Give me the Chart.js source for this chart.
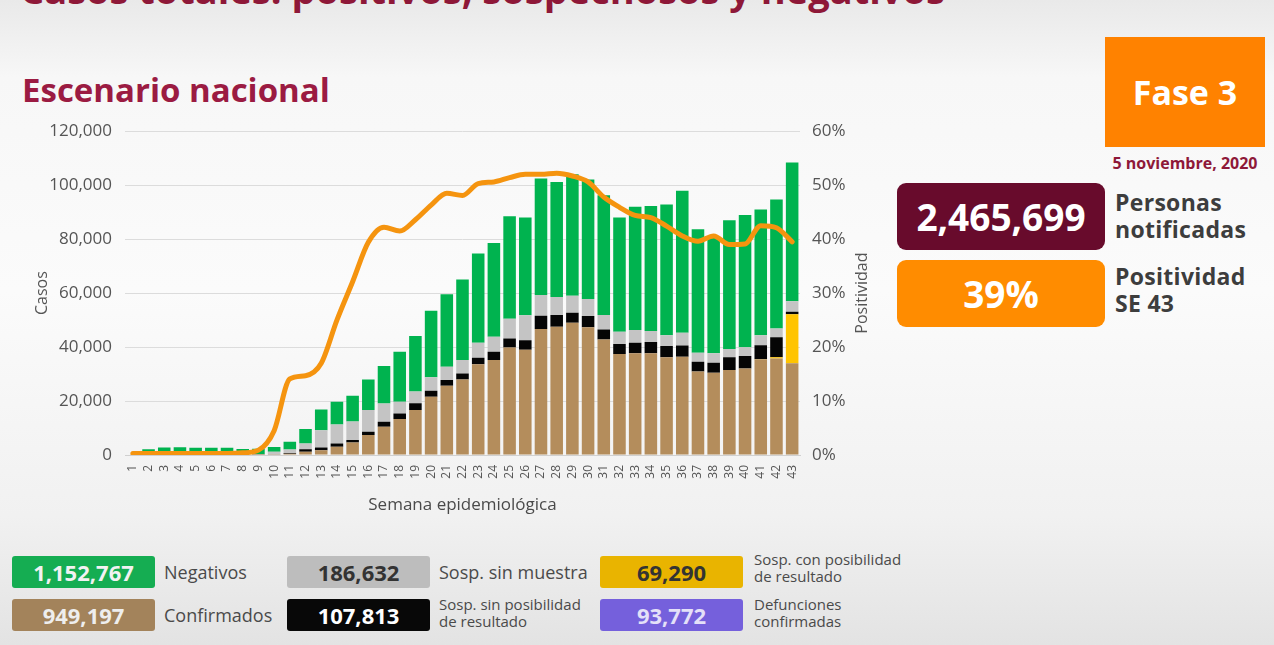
<!DOCTYPE html>
<html lang="es">
<head>
<meta charset="utf-8">
<title>Escenario nacional</title>
<script src="https://cdn.jsdelivr.net/npm/chart.js@4.4.1/dist/chart.umd.min.js"></script>
<style>
  html, body { margin: 0; padding: 0; }
  body {
    width: 1274px; height: 645px; overflow: hidden; position: relative;
    font-family: "Open Sans", "DejaVu Sans", sans-serif;
    background: linear-gradient(180deg, #e9e9e9 0%, #f7f7f7 12%, #fbfbfb 45%, #f1f1f1 80%, #e3e3e3 100%);
  }
  .abs { position: absolute; }
  .toptitle { left: 20px; top: -37px; font-size: 38px; font-weight: 700; color: #8e1838; white-space: nowrap; }
  .title { left: 22px; top: 67px; font-size: 33px; font-weight: 700; color: #9b1b42; }
  #wrap { left: 20px; top: 108px; width: 870px; height: 410px; }
  .fase { left: 1105px; top: 37px; width: 160px; height: 110px; background: #ff8200;
          color: #fff; font-weight: 700; font-size: 34px; display: flex; align-items: center; justify-content: center; }
  .fecha { left: 1100px; top: 152px; width: 170px; text-align: center; color: #8e1838; font-weight: 700; font-size: 16px; }
  .bigbox { left: 897px; width: 208px; height: 67px; border-radius: 9px; color: #fff; font-weight: 700;
            font-size: 37px; display: flex; align-items: center; justify-content: center; }
  .sidelbl { left: 1115px; color: #3d3d3d; font-weight: 700; font-size: 23px; line-height: 27px; letter-spacing: 0.3px; }
  .lbox { width: 143px; height: 32px; border-radius: 3px; font-weight: 700; font-size: 22px;
          display: flex; align-items: center; justify-content: center; }
  .ltxt { color: #4a4a4a; font-size: 18px; }
  .ltxt2 { color: #4a4a4a; font-size: 15px; line-height: 17px; }
</style>
</head>
<body>
<div class="abs toptitle">Casos totales: positivos, sospechosos y negativos</div>
<div class="abs title">Escenario nacional</div>
<div class="abs" id="wrap"><canvas id="chart"></canvas></div>

<div class="abs fase">Fase 3</div>
<div class="abs fecha">5 noviembre, 2020</div>
<div class="abs bigbox" style="top:183px; background:#680b2c;">2,465,699</div>
<div class="abs sidelbl" style="top:189px;">Personas<br>notificadas</div>
<div class="abs bigbox" style="top:260px; background:#ff8c00;">39%</div>
<div class="abs sidelbl" style="top:263px;">Positividad<br>SE 43</div>

<div class="abs lbox" style="left:12px; top:556px; background:#15ad52; color:#f2f2f2;">1,152,767</div>
<div class="abs ltxt" style="left:164px; top:560px;">Negativos</div>
<div class="abs lbox" style="left:287px; top:556px; background:#bdbdbd; color:#333;">186,632</div>
<div class="abs ltxt" style="left:439px; top:560px;">Sosp. sin muestra</div>
<div class="abs lbox" style="left:600px; top:556px; background:#e9b400; color:#333;">69,290</div>
<div class="abs ltxt2" style="left:754px; top:551px;">Sosp. con posibilidad<br>de resultado</div>
<div class="abs lbox" style="left:12px; top:599px; background:#a3835b; color:#eee;">949,197</div>
<div class="abs ltxt" style="left:164px; top:603px;">Confirmados</div>
<div class="abs lbox" style="left:287px; top:599px; background:#080808; color:#fff;">107,813</div>
<div class="abs ltxt2" style="left:439px; top:596px;">Sosp. sin posibilidad<br>de resultado</div>
<div class="abs lbox" style="left:600px; top:599px; background:#7560dc; color:#e4e0f8;">93,772</div>
<div class="abs ltxt2" style="left:754px; top:596px;">Defunciones<br>confirmadas</div>

<script>
// semanas epidemiologicas 1..43
var semanas = ['1','2','3','4','5','6','7','8','9','10','11','12','13','14','15','16','17','18','19','20','21','22',
  '23','24','25','26','27','28','29','30','31','32','33','34','35','36','37','38','39','40','41','42','43'];

var confirmados = [0, 0, 0, 0, 0, 0, 0, 0, 20, 100, 500, 1200, 1800, 3100, 4600, 7400, 10500, 13300, 16700, 21600,
  25700, 28000, 33600, 35200, 39800, 39000, 46700, 47500, 49000, 47300, 42800, 37400, 37700, 37700, 36200, 36400,
  30900, 30500, 31500, 32100, 35400, 35800, 34000];

var sospConPosibilidad = [0, 0, 0, 0, 0, 0, 0, 0, 0, 0, 0, 0, 0, 0, 0, 0, 0, 0, 0, 0, 0, 0, 0, 0, 0, 0, 0, 0, 0, 0,
  0, 0, 0, 0, 0, 0, 0, 0, 0, 0, 100, 400, 18200];

var sospSinPosibilidad = [0, 0, 0, 0, 0, 0, 0, 0, 0, 0, 200, 900, 1000, 1200, 1000, 1200, 1800, 2100, 2500, 2200,
  2100, 2200, 2400, 3100, 3400, 3500, 4900, 4400, 3700, 4200, 3700, 3700, 3900, 4200, 4200, 4200, 3700, 3700,
  4700, 4600, 5200, 7400, 900];

var sospSinMuestra = [0, 300, 300, 300, 300, 300, 300, 300, 300, 1100, 1300, 2200, 6400, 7000, 6800, 8100, 6800,
  4300, 4300, 5000, 4900, 5000, 5600, 5500, 7300, 9300, 7700, 6700, 6300, 6300, 5400, 4600, 4700, 4100, 4000,
  4700, 3300, 3500, 3100, 3200, 3700, 3300, 3900];

var negativos = [0, 1800, 2500, 2600, 2400, 2400, 2400, 1900, 2000, 1800, 2900, 5300, 7700, 8400, 9600, 11300,
  13900, 18600, 20600, 24700, 26900, 29800, 33100, 34800, 38000, 36200, 43200, 42600, 45000, 44300, 44400, 42300,
  45700, 46300, 48400, 52600, 45800, 43400, 47700, 49000, 46600, 47800, 51400];

// positividad (%)
var positividad = [0.3, 0.3, 0.3, 0.3, 0.3, 0.3, 0.3, 0.4, 0.9, 4.5, 14.1, 14.7, 17.0, 25.0, 32.1, 39.4, 42.2, 41.5,
  43.6, 46.3, 48.5, 48.1, 50.3, 50.6, 51.4, 52.0, 52.0, 52.2, 51.7, 50.6, 47.8, 45.9, 44.4, 44.0, 42.4, 40.6, 39.6,
  40.6, 39.0, 39.1, 42.5, 42.1, 39.5];

var tickColor = '#555555';
var tickFont = { family: 'Open Sans', size: 17 };

function barSet(label, data, color) {
  return {
    type: 'bar', label: label, data: data, backgroundColor: color,
    yAxisID: 'y', order: 1, barPercentage: 0.8, categoryPercentage: 1.0
  };
}

// right axis title reads bottom-to-top, so draw it by hand
var rightTitle = {
  id: 'rightTitle',
  afterDraw: function (chart) {
    var s = chart.scales.y1;
    var ctx = chart.ctx;
    ctx.save();
    ctx.translate(s.right - 28, (chart.chartArea.top + chart.chartArea.bottom) / 2);
    ctx.rotate(-Math.PI / 2);
    ctx.font = '16px "Open Sans"';
    ctx.fillStyle = tickColor;
    ctx.textAlign = 'center';
    ctx.textBaseline = 'middle';
    ctx.fillText('Positividad', 0, 0);
    ctx.restore();
  }
};

var ctx = document.getElementById('chart').getContext('2d');
new Chart(ctx, {
  data: {
    labels: semanas,
    datasets: [
      {
        type: 'line', label: 'Positividad', data: positividad, yAxisID: 'y1', order: 0,
        borderColor: '#f5940f', borderWidth: 5, pointRadius: 0, fill: false,
        cubicInterpolationMode: 'monotone', borderCapStyle: 'round', borderJoinStyle: 'round'
      },
      barSet('Confirmados', confirmados, '#b48d5c'),
      barSet('Sosp. con posibilidad de resultado', sospConPosibilidad, '#ffc400'),
      barSet('Sosp. sin posibilidad de resultado', sospSinPosibilidad, '#050505'),
      barSet('Sosp. sin muestra', sospSinMuestra, '#c4c4c4'),
      barSet('Negativos', negativos, '#00b34f')
    ]
  },
  plugins: [rightTitle],
  options: {
    responsive: true,
    maintainAspectRatio: false,
    animation: false,
    layout: { padding: { top: 6, left: 0, right: 0, bottom: 0 } },
    plugins: { legend: { display: false }, tooltip: { enabled: false } },
    scales: {
      x: {
        stacked: true,
        grid: { display: false },
        border: { display: true, color: '#d0d0d0' },
        ticks: { color: tickColor, font: { family: 'Open Sans', size: 12 }, minRotation: 90, maxRotation: 90,
                 autoSkip: false, padding: 2 },
        title: { display: true, text: 'Semana epidemiológica', color: '#4a4a4a',
                 font: { family: 'Open Sans', size: 17 }, padding: { top: 4, bottom: 3 } },
        afterFit: function (s) { s.height = 63; }
      },
      y: {
        stacked: true, position: 'left', min: 0, max: 120000,
        grid: { color: '#dcdcdc', drawTicks: false },
        border: { display: false },
        ticks: { stepSize: 20000, color: tickColor, font: tickFont, padding: 13,
                 callback: function (v) { return v.toLocaleString('en-US'); } },
        title: { display: true, text: 'Casos', color: tickColor, font: { family: 'Open Sans', size: 16 },
                 padding: { top: 13, bottom: 0 } },
        afterFit: function (s) { s.width = 105; }
      },
      y1: {
        position: 'right', min: 0, max: 60,
        grid: { display: false, drawTicks: false },
        border: { display: false },
        ticks: { stepSize: 10, color: tickColor, font: tickFont, padding: 12,
                 callback: function (v) { return v + '%'; } },
        afterFit: function (s) { s.width = 90; }
      }
    }
  }
});
</script>
</body>
</html>
